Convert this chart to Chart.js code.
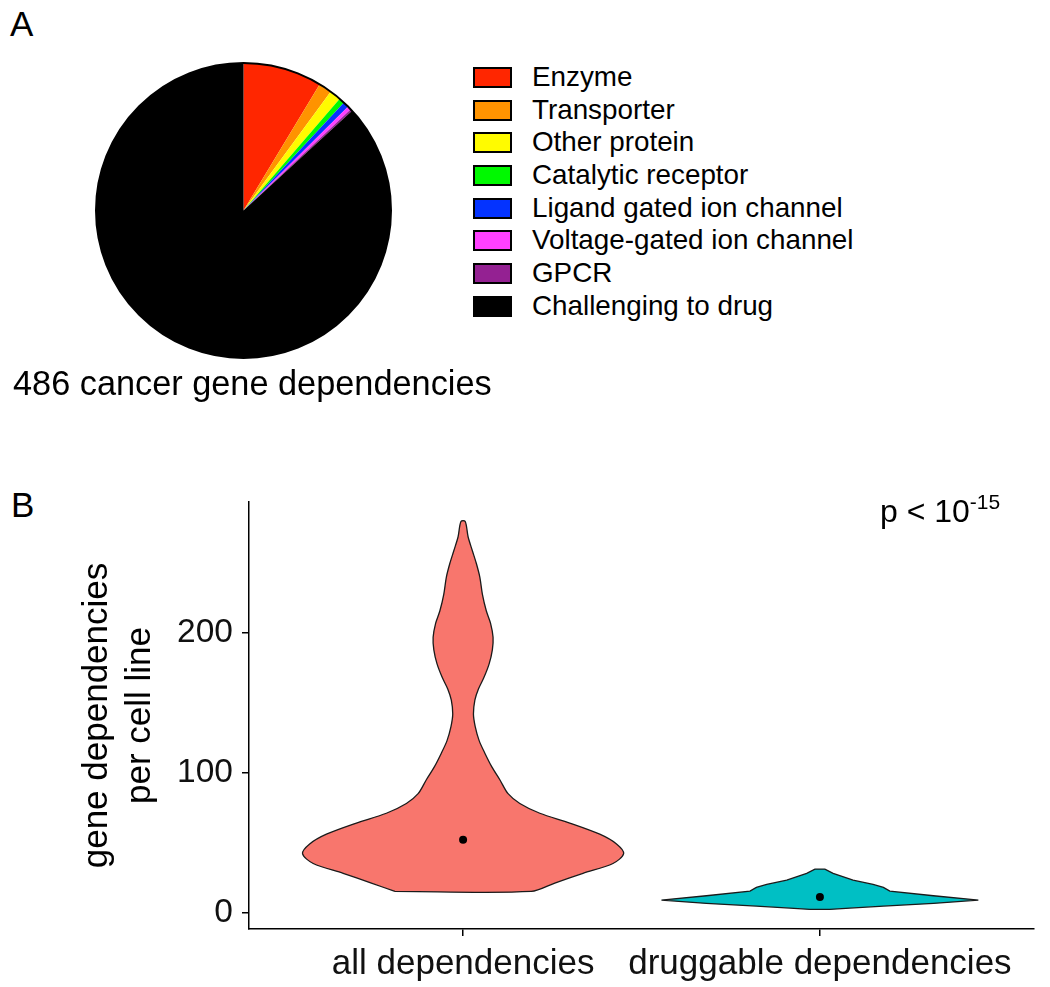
<!DOCTYPE html>
<html>
<head>
<meta charset="utf-8">
<script src="https://cdn.jsdelivr.net/npm/chart.js@4.4.0/dist/chart.umd.min.js"></script>
<style>
  body { margin: 0; background: #fff; width: 1050px; height: 987px; position: relative; overflow: hidden;
         font-family: "Liberation Sans", Arial, sans-serif; color: #000; }
  .abs { position: absolute; white-space: nowrap; }
  .panel { font-size: 35px; line-height: 35px; }
  #caption { left: 13px; top: 366px; font-size: 34.3px; line-height: 34px; }
  #legend { left: 473px; top: 61px; }
  .row { display: flex; align-items: center; height: 32.7px; font-size: 27.8px; line-height: 32.7px; }
  .key { width: 39px; height: 21px; box-sizing: border-box; border: 2.5px solid #000; margin-right: 20px; }
  #pval { left: 880px; top: 495px; font-size: 32px; line-height: 32px; }
  #pval sup { font-size: 21px; vertical-align: 13px; line-height: 0; }
</style>
</head>
<body>
<div class="abs panel" style="left:10px;top:6px;">A</div>
<div class="abs panel" style="left:11px;top:487px;">B</div>

<div class="abs" style="left:0;top:0;"><canvas id="pie" width="460" height="440"></canvas></div>
<div class="abs" id="legend"></div>
<div class="abs" id="caption">486 cancer gene dependencies</div>

<div class="abs" style="left:0;top:470px;"><canvas id="violin" width="1050" height="517"></canvas></div>
<div class="abs" id="pval">p &lt; 10<sup>-15</sup></div>

<script>
// PANEL A - drug target classes
const pieLabels = ['Enzyme', 'Transporter', 'Other protein', 'Catalytic receptor',
                   'Ligand gated ion channel', 'Voltage-gated ion channel', 'GPCR', 'Challenging to drug'];
const pieCounts = [42, 7, 6, 3, 3, 2, 1, 422];
const pieColors = ['#FF2600', '#FF9300', '#FFFB00', '#00F900', '#0433FF', '#FF40FF', '#942192', '#000000'];

// PANEL B - violin outlines (value, half width in category units)
const violinLabels = ['all dependencies', 'druggable dependencies'];
const allY    = [15, 21, 28, 35, 42, 49, 56, 64, 71, 78, 85, 95, 104, 114, 123, 133, 142, 152, 160, 168, 178, 188, 197, 207, 216, 228, 240, 250, 259, 269, 280];
const allHalf = [0.191, 0.257, 0.336, 0.420, 0.450, 0.430, 0.383, 0.299, 0.215, 0.159, 0.126, 0.103, 0.081, 0.061, 0.045, 0.034, 0.029, 0.033, 0.043, 0.058, 0.073, 0.082, 0.084, 0.077, 0.065, 0.054, 0.047, 0.037, 0.026, 0.014, 0.006];
const drugY    = [2.1, 3.1, 4.5, 6.4, 8.8, 11.9, 15.2, 17.9, 20, 23.1, 27.9, 31];
const drugHalf = [0.028, 0.084, 0.178, 0.318, 0.444, 0.318, 0.196, 0.178, 0.149, 0.093, 0.037, 0.014];
const medians = [52, 11];
const yTicks = [0, 100, 200];

const FONT = '"Liberation Sans", Arial, sans-serif';

// thin black ring round the pie
const pieOutline = {
  id: 'pieOutline',
  afterDatasetsDraw(chart) {
    const arc = chart.getDatasetMeta(0).data[0];
    const {x, y, outerRadius} = arc.getProps(['x', 'y', 'outerRadius'], true);
    const ctx = chart.ctx;
    ctx.save();
    ctx.beginPath();
    ctx.arc(x, y, outerRadius, 0, Math.PI * 2);
    ctx.lineWidth = 2;
    ctx.strokeStyle = '#000';
    ctx.stroke();
    ctx.restore();
  }
};

new Chart(document.getElementById('pie'), {
  type: 'pie',
  data: {
    labels: pieLabels,
    datasets: [{ data: pieCounts, backgroundColor: pieColors, borderWidth: 0 }]
  },
  options: {
    responsive: false,
    animation: false,
    events: [],
    layout: { padding: { left: 96, right: 69, top: 63, bottom: 82 } },
    plugins: { legend: { display: false }, tooltip: { enabled: false } }
  },
  plugins: [pieOutline]
});

// legend
const legend = document.getElementById('legend');
pieLabels.forEach((name, i) => {
  const row = document.createElement('div');
  row.className = 'row';
  const key = document.createElement('div');
  key.className = 'key';
  key.style.background = pieColors[i];
  const txt = document.createElement('span');
  txt.textContent = name;
  row.appendChild(key);
  row.appendChild(txt);
  legend.appendChild(row);
});

// build closed outline: left side going up, right side coming down
function outline(pos, ys, half) {
  const left = ys.map((y, i) => ({ x: pos - half[i], y: y }));
  const right = ys.map((y, i) => ({ x: pos + half[i], y: y })).reverse();
  return left.concat(right, [left[0]]);
}

new Chart(document.getElementById('violin'), {
  type: 'line',
  data: {
    datasets: [
      // medians first so they sit on top
      { data: medians.map((m, i) => ({ x: i + 1, y: m })), showLine: false,
        pointRadius: 4, pointBackgroundColor: '#000', pointBorderWidth: 0, order: 0 },
      { data: outline(1, allY, allHalf), fill: 'shape', backgroundColor: '#F8766D',
        borderColor: '#1a1a1a', borderWidth: 1.3, pointRadius: 0, tension: 0.3, order: 1 },
      { data: outline(2, drugY, drugHalf), fill: 'shape', backgroundColor: '#00BFC4',
        borderColor: '#1a1a1a', borderWidth: 1.3, pointRadius: 0, tension: 0, order: 1 }
    ]
  },
  options: {
    responsive: false,
    animation: false,
    events: [],
    layout: { padding: { top: 32, right: 16, left: 0, bottom: 0 } },
    plugins: { legend: { display: false }, tooltip: { enabled: false } },
    scales: {
      x: {
        type: 'linear', min: 0.4, max: 2.6,
        afterBuildTicks: s => { s.ticks = violinLabels.map((_, i) => ({ value: i + 1 })); },
        afterFit: s => { s.height = 58; },
        ticks: { callback: v => violinLabels[v - 1], font: { size: 35, family: FONT },
                 color: '#111', padding: 7, maxRotation: 0, autoSkip: false },
        grid: { drawOnChartArea: false, tickLength: 7, color: '#000', lineWidth: 1.5 },
        border: { color: '#000', width: 1.5 }
      },
      y: {
        min: -11.9, max: 293.9,
        afterBuildTicks: s => { s.ticks = yTicks.map(v => ({ value: v })); },
        afterFit: s => { s.width = 249; },
        ticks: { font: { size: 33.5, family: FONT }, color: '#111', padding: 9 },
        grid: { drawOnChartArea: false, tickLength: 7, color: '#000', lineWidth: 1.5 },
        border: { color: '#000', width: 1.5 },
        title: { display: true, text: ['gene dependencies', 'per cell line'],
                 font: { size: 35, family: FONT, lineHeight: 1.22 }, color: '#000',
                 padding: { top: 76, bottom: 0 } }
      }
    }
  }
});
</script>
</body>
</html>
